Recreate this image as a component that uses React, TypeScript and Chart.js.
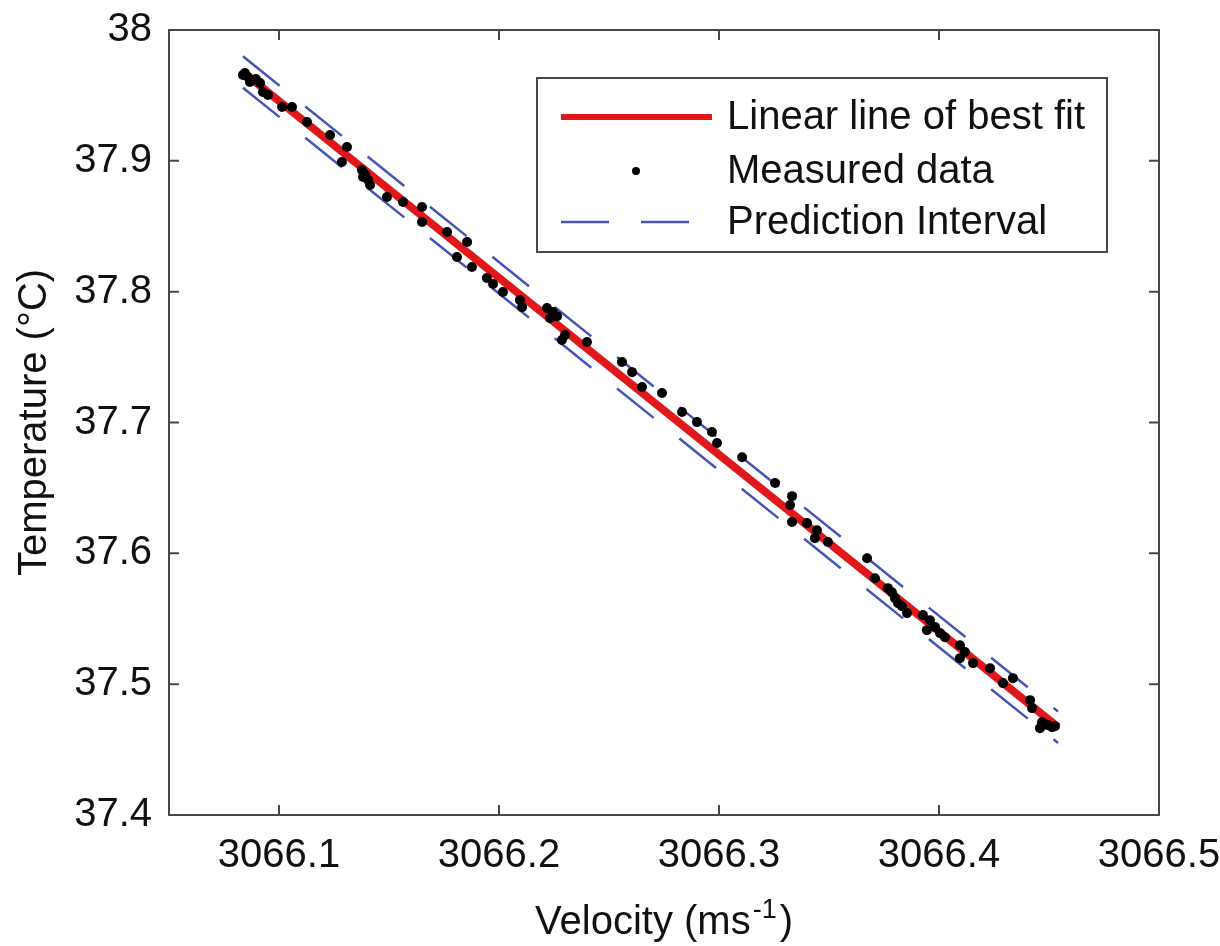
import React, { useEffect, useRef } from 'react';
import { Chart, registerables } from 'chart.js';

Chart.register(...registerables);

const FONT = '"Liberation Sans", Arial, Helvetica, sans-serif';

const measuredVelocity = [
  3066.0836, 3066.0859, 3066.0877, 3066.0914, 3066.0927, 3066.095, 3066.1014, 3066.1059, 3066.1127, 3066.1232,
  3066.1309, 3066.1286, 3066.1377, 3066.1382, 3066.1414, 3066.1491, 3066.1564, 3066.165, 3066.165, 3066.1764,
  3066.1855, 3066.1809, 3066.1877, 3066.1945, 3066.1973, 3066.2018, 3066.2095, 3066.2105, 3066.2218, 3066.2232,
  3066.23, 3066.2286, 3066.24, 3066.2559, 3066.2605, 3066.265, 3066.2741, 3066.2832, 3066.29, 3066.2968,
  3066.2991, 3066.3105, 3066.3255, 3066.3332, 3066.3323, 3066.3332, 3066.34, 3066.3445, 3066.3436, 3066.3495,
  3066.3673, 3066.3709, 3066.3768, 3066.3814, 3066.3855, 3066.3927, 3066.3959, 3066.3945, 3066.4005, 3066.4095,
  3066.4095, 3066.4155, 3066.4232, 3066.4291, 3066.4336, 3066.4414, 3066.4423, 3066.4468, 3066.4495, 3066.4527,
  3066.4459, 3066.0845, 3066.0868, 3066.0895, 3066.1391, 3066.1405, 3066.2245, 3066.2264, 3066.3786, 3066.38,
  3066.3832, 3066.3982, 3066.4027, 3066.4118, 3066.4482, 3066.4514,
];

const measuredTemperature = [
  37.9656, 37.9641, 37.9618, 37.9595, 37.9526, 37.9503, 37.9411, 37.9411, 37.9297, 37.9197,
  37.9106, 37.8991, 37.893, 37.8876, 37.8815, 37.8723, 37.8685, 37.8647, 37.8532, 37.8456,
  37.8379, 37.8265, 37.8188, 37.8104, 37.8058, 37.7997, 37.7936, 37.7882, 37.7875, 37.7798,
  37.7668, 37.763, 37.7615, 37.7462, 37.7385, 37.7271, 37.7225, 37.708, 37.7003, 37.6927,
  37.6843, 37.6735, 37.6537, 37.6437, 37.6369, 37.6239, 37.6231, 37.6177, 37.6116, 37.6086,
  37.5963, 37.581, 37.5734, 37.5619, 37.5543, 37.5528, 37.5489, 37.5413, 37.539, 37.5298,
  37.5199, 37.5161, 37.5122, 37.5008, 37.5046, 37.4878, 37.4817, 37.4709, 37.4687, 37.4679,
  37.4664, 37.9671, 37.9602, 37.9625, 37.8899, 37.8853, 37.7844, 37.7813, 37.5703, 37.5657,
  37.5596, 37.5436, 37.5359, 37.5245, 37.4694, 37.4671,
];

const fitVelocity = [3066.0836, 3066.4541];
const fitTemperature = [37.9679, 37.4671];
const piUpperTemperature = [37.9799, 37.4791];
const piLowerTemperature = [37.9559, 37.4551];

const xTickValues = [3066.1, 3066.2, 3066.3, 3066.4, 3066.5];
const xTickLabels = ['3066.1', '3066.2', '3066.3', '3066.4', '3066.5'];
const yTickValues = [37.4, 37.5, 37.6, 37.7, 37.8, 37.9, 38];
const yTickLabels = ['37.4', '37.5', '37.6', '37.7', '37.8', '37.9', '38'];

const legendLabels = ['Linear line of best fit', 'Measured data', 'Prediction Interval'];
const yTitle = 'Temperature (°C)';
const xTitleMain = 'Velocity (ms';
const xTitleSup = '-1';
const xTitleEnd = ')';

const RED = '#e0181c';
const BLUE = '#4454b8';
const AXIS = '#474747';
const TEXT = '#111111';

const framePlugin = {
  id: 'frameAndLegend',
  afterDraw(chart: any) {
    const { ctx, chartArea } = chart;
    const { left, right, top, bottom } = chartArea;
    const xs = chart.scales.x;
    const ys = chart.scales.y;
    ctx.save();
    // frame
    ctx.strokeStyle = AXIS;
    ctx.lineWidth = 2;
    ctx.strokeRect(left, top, right - left, bottom - top);
    // inward ticks
    const tl = 10;
    ctx.beginPath();
    xTickValues.forEach((v) => {
      const px = xs.getPixelForValue(v);
      ctx.moveTo(px, bottom);
      ctx.lineTo(px, bottom - tl);
      ctx.moveTo(px, top);
      ctx.lineTo(px, top + tl);
    });
    yTickValues.forEach((v) => {
      const py = ys.getPixelForValue(v);
      ctx.moveTo(left, py);
      ctx.lineTo(left + tl, py);
      ctx.moveTo(right, py);
      ctx.lineTo(right - tl, py);
    });
    ctx.stroke();

    // x title with superscript
    ctx.fillStyle = TEXT;
    ctx.textBaseline = 'alphabetic';
    ctx.textAlign = 'left';
    const mainFont = `40px ${FONT}`;
    const supFont = `27px ${FONT}`;
    const gapSup = 2;
    const gapEnd = 3;
    ctx.font = mainFont;
    const w1 = ctx.measureText(xTitleMain).width;
    const w3 = ctx.measureText(xTitleEnd).width;
    ctx.font = supFont;
    const w2 = ctx.measureText(xTitleSup).width;
    const total = w1 + gapSup + w2 + gapEnd + w3;
    const cx = (left + right) / 2;
    const x0 = cx - total / 2;
    const base = 934;
    ctx.font = mainFont;
    ctx.fillText(xTitleMain, x0, base);
    ctx.font = supFont;
    ctx.fillText(xTitleSup, x0 + w1 + gapSup, base - 16);
    ctx.font = mainFont;
    ctx.fillText(xTitleEnd, x0 + w1 + gapSup + w2 + gapEnd, base);

    // legend
    const lx = 537, ly = 78, lw = 570, lh = 174;
    ctx.fillStyle = '#ffffff';
    ctx.fillRect(lx, ly, lw, lh);
    ctx.strokeStyle = AXIS;
    ctx.lineWidth = 2;
    ctx.strokeRect(lx, ly, lw, lh);
    const rows = [117, 171, 222];
    ctx.strokeStyle = RED;
    ctx.lineWidth = 6;
    ctx.beginPath();
    ctx.moveTo(561, rows[0]);
    ctx.lineTo(712, rows[0]);
    ctx.stroke();
    ctx.fillStyle = '#000';
    ctx.beginPath();
    ctx.arc(636, rows[1], 4, 0, Math.PI * 2);
    ctx.fill();
    ctx.strokeStyle = BLUE;
    ctx.lineWidth = 2.5;
    ctx.setLineDash([48, 32]);
    ctx.beginPath();
    ctx.moveTo(561, rows[2]);
    ctx.lineTo(712, rows[2]);
    ctx.stroke();
    ctx.setLineDash([]);
    ctx.fillStyle = TEXT;
    ctx.font = mainFont;
    ctx.textBaseline = 'middle';
    legendLabels.forEach((t, i) => ctx.fillText(t, 727, rows[i] + 1));
    ctx.restore();
  },
};

export default function App() {
  const ref = useRef<HTMLCanvasElement | null>(null);
  useEffect(() => {
    if (!ref.current) return;
    const measured = measuredVelocity.map((v, i) => ({ x: v, y: measuredTemperature[i] }));
    const fit = fitVelocity.map((v, i) => ({ x: v, y: fitTemperature[i] }));
    const upper = fitVelocity.map((v, i) => ({ x: v, y: piUpperTemperature[i] }));
    const lower = fitVelocity.map((v, i) => ({ x: v, y: piLowerTemperature[i] }));
    const chart = new Chart(ref.current, {
      type: 'scatter',
      data: {
        datasets: [
          {
            label: legendLabels[1],
            data: measured,
            pointRadius: 5,
            pointBackgroundColor: '#000',
            pointBorderWidth: 0,
            showLine: false,
            order: 0,
          },
          {
            label: legendLabels[0],
            data: fit,
            showLine: true,
            borderColor: RED,
            borderWidth: 8,
            pointRadius: 0,
            order: 1,
          },
          {
            label: legendLabels[2],
            data: upper,
            showLine: true,
            borderColor: BLUE,
            borderWidth: 2.5,
            borderDash: [47, 33],
            pointRadius: 0,
            order: 2,
          },
          {
            label: legendLabels[2] + ' (lower)',
            data: lower,
            showLine: true,
            borderColor: BLUE,
            borderWidth: 2.5,
            borderDash: [47, 33],
            pointRadius: 0,
            order: 2,
          },
        ],
      } as any,
      options: {
        responsive: false,
        animation: false,
        devicePixelRatio: 1,
        layout: { padding: { left: 0, right: 61, top: 30, bottom: 0 } },
        plugins: { legend: { display: false }, tooltip: { enabled: false } },
        scales: {
          x: {
            type: 'linear',
            min: 3066.05,
            max: 3066.5,
            afterBuildTicks: (s: any) => {
              s.ticks = xTickValues.map((v) => ({ value: v }));
            },
            afterFit: (s: any) => {
              s.height = 131;
              s.paddingLeft = 0;
              s.paddingRight = 0;
              s.paddingTop = 0;
              s.paddingBottom = 0;
            },
            grid: { display: false, drawTicks: false },
            border: { display: false },
            ticks: {
              autoSkip: false,
              maxRotation: 0,
              padding: 17,
              color: TEXT,
              font: { size: 40, family: FONT },
              callback: (_v: any, i: number) => xTickLabels[i],
            },
          },
          y: {
            type: 'linear',
            min: 37.4,
            max: 38,
            afterBuildTicks: (s: any) => {
              s.ticks = yTickValues.map((v) => ({ value: v }));
            },
            afterFit: (s: any) => {
              s.width = 169;
              s.paddingLeft = 0;
              s.paddingRight = 0;
              s.paddingTop = 0;
              s.paddingBottom = 0;
            },
            grid: { display: false, drawTicks: false },
            border: { display: false },
            title: {
              display: true,
              text: yTitle,
              color: TEXT,
              font: { size: 40, family: FONT },
              padding: { top: 11, bottom: 0 },
            },
            ticks: {
              autoSkip: false,
              padding: 17,
              color: TEXT,
              font: { size: 40, family: FONT },
              callback: (_v: any, i: number) => yTickLabels[i],
            },
          },
        },
      } as any,
      plugins: [framePlugin],
    });
    return () => chart.destroy();
  }, []);
  return (
    <div style={{ position: 'absolute', left: 0, top: 0, width: 1220, height: 946, background: '#fff' }}>
      <canvas ref={ref} width={1220} height={946} style={{ display: 'block' }} />
    </div>
  );
}
